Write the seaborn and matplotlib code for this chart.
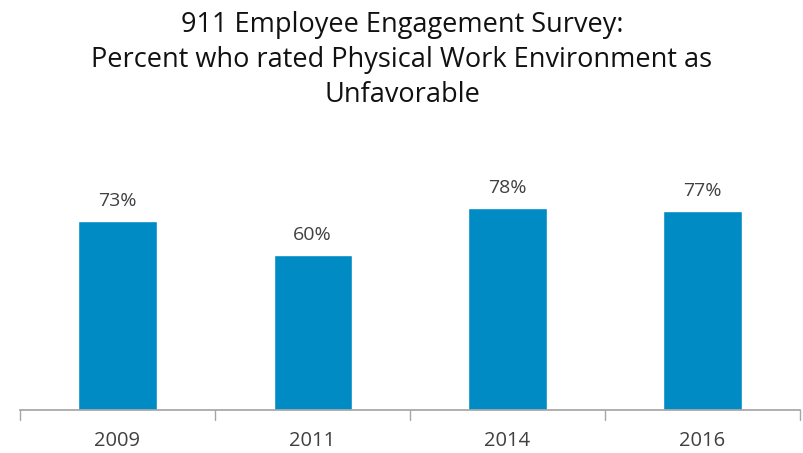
import matplotlib
matplotlib.use("Agg")
import matplotlib.pyplot as plt
import seaborn as sns
import pandas as pd

years = ["2009", "2011", "2014", "2016"]
values = [73, 60, 78, 77]
labels = ["73%", "60%", "78%", "77%"]

sns.set_theme(style="white")
plt.rcParams['font.family'] = ['Open Sans', 'DejaVu Sans']

df = pd.DataFrame({"year": years, "value": values})

fig = plt.figure(figsize=(8.04, 4.53), dpi=100)
ax = fig.add_axes([20/804, 1 - 410/453, 780/804, 233/453])
sns.barplot(data=df, x="year", y="value", color="#008BC4", saturation=1, width=0.4, ax=ax)
ax.set_ylim(0, 90)
ax.set_xlim(-0.5, len(years) - 0.5)
for i, (v, t) in enumerate(zip(values, labels)):
    ax.text(i, v + 4.3, t, ha="center", va="bottom", fontsize=14, color="#404040")

for s in ["top", "right", "left"]:
    ax.spines[s].set_visible(False)
ax.spines["bottom"].set_color("#A6A6A6")
ax.set_yticks([])
ax.set_xticks(range(len(years)))
ax.set_xticklabels(years, fontsize=14.5, color="#404040")
ax.tick_params(axis="x", length=0, pad=15)
for b in [x - 0.5 for x in range(len(years) + 1)]:
    ax.plot([b, b], [0, -4], color="#A6A6A6", lw=1, clip_on=False)
ax.set_xlabel("")
ax.set_ylabel("")

fig.text(0.5, 1 - 60/453, "911 Employee Engagement Survey:\nPercent who rated Physical Work Environment as\nUnfavorable",
         ha="center", va="center", fontsize=19.5, color="#111111", linespacing=1.35)

fig.savefig("out.png", dpi=100)
